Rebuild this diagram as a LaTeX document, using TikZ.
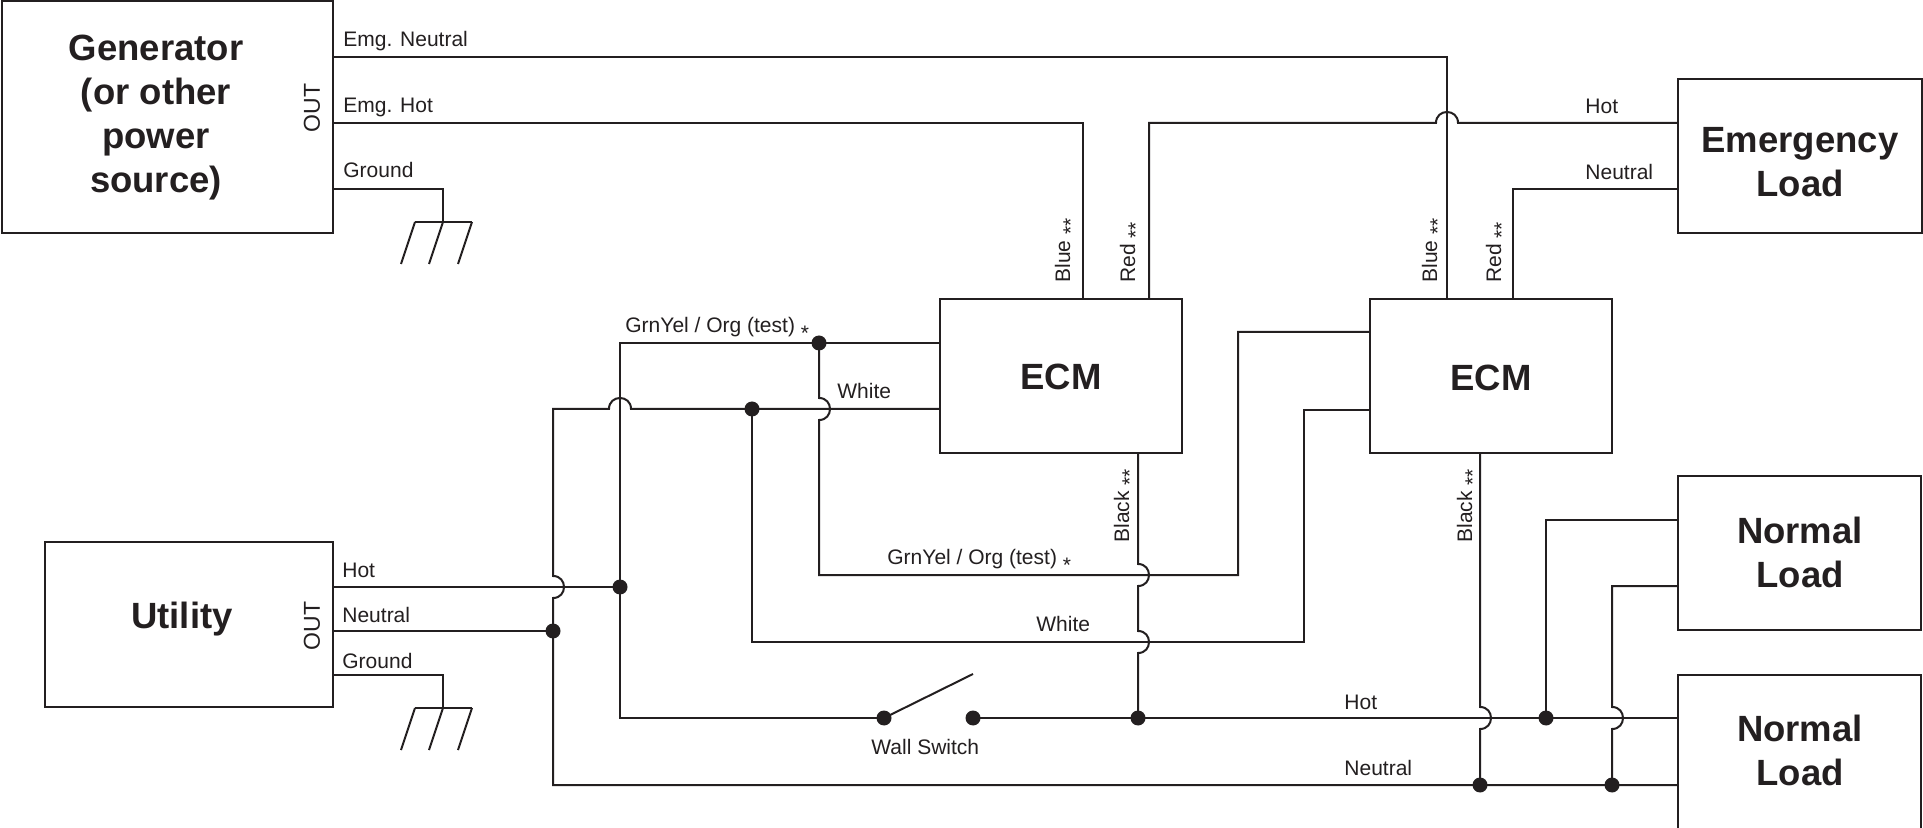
\documentclass[tikz,border=0pt]{standalone}
\usepackage{fontspec}
\setmainfont{Liberation Sans}
\usetikzlibrary{calc}
\definecolor{ink}{RGB}{35,31,32}
\newcommand\lowast{\raisebox{-0.38em}{*}}
\begin{document}
\begin{tikzpicture}[x=0.5pt,y=-0.5pt,
  box/.style={draw=ink,line width=1pt,inner sep=0pt,outer sep=0pt},
  wire/.style={draw=ink,line width=1pt},
  lbl/.style={inner sep=0pt,anchor=base west,text=ink,font=\fontsize{10.5}{12}\selectfont},
  vlbl/.style={lbl,rotate=90},
  title/.style={inner sep=0pt,align=center,text=ink,font=\fontsize{18.25}{22}\selectfont\bfseries},
  outlbl/.style={inner sep=0pt,rotate=90,text=ink,font=\fontsize{11.5}{13}\selectfont},
  jdot/.style={circle,fill=ink,inner sep=0pt,minimum size=7.5pt}]
\fill[white] (0,0) rectangle (1923,828);
\useasboundingbox (0,0) rectangle (1923,828);

% boxes
\node[box,minimum width=165.5pt,minimum height=116pt] (gen) at (167.5,117) {};
\node[box,minimum width=144pt,minimum height=82.5pt] (util) at (189,624.5) {};
\node[box,minimum width=121pt,minimum height=77pt] (ecmA) at (1061,376) {};
\node[box,minimum width=121pt,minimum height=77pt] (ecmB) at (1491,376) {};
\node[box,minimum width=122pt,minimum height=77pt] (emg) at (1800,156) {};
\node[box,minimum width=121.5pt,minimum height=77pt] (nlA) at (1799.5,553) {};
\node[box,minimum width=121.5pt,minimum height=78.5pt] (nlB) at (1799.5,753.5) {};

% titles
\node[title] (genT) at (156,118) {Generator\\(or other\\power\\source)};
\node[title,anchor=base] (utilT) at (182,628) {Utility};
\node[title,anchor=base] (ecmAT) at (1061,390) {ECM};
\node[title,anchor=base] (ecmBT) at (1491,391) {ECM};
\node[title] (emgT) at (1800,162) {Emergency\\Load};
\node[title] (nlAT) at (1800,552) {Normal\\Load};
\node[title] (nlBT) at (1800,750.5) {Normal\\Load};
\node[outlbl] (genO) at (312,108) {OUT};
\node[outlbl] (utilO) at (312,626) {OUT};

% coordinates
\coordinate (nA) at (1447,57);
\coordinate (hA) at (1083,123);
\coordinate (rA) at (1149,123);
\coordinate (rB) at (1513,189);
\coordinate (gG) at (443,189);
\coordinate (gE) at (443,222);
\coordinate (uG) at (443,675);
\coordinate (uE) at (443,708);
\coordinate (uH) at (620,587);
\coordinate (uN) at (553,631);
\coordinate (nTop) at (553,409);
\coordinate (nBot) at (553,785);
\coordinate (wJ) at (752,409);
\coordinate (gTop) at (620,343);
\coordinate (gJ) at (819,343);
\coordinate (hBot) at (620,718);
\coordinate (swA) at (884,718);
\coordinate (swB) at (973,718);
\coordinate (swT) at (973,674);
\coordinate (bAJ) at (1138,718);
\coordinate (bBJ) at (1480,785);
\coordinate (lHJ) at (1546,718);
\coordinate (lHT) at (1546,520);
\coordinate (lNJ) at (1612,785);
\coordinate (lNT) at (1612,586);
\coordinate (gL1) at (819,575);
\coordinate (gL2) at (1238,575);
\coordinate (gL3) at (1238,332);
\coordinate (wL1) at (752,642);
\coordinate (wL2) at (1304,642);
\coordinate (wL3) at (1304,410);

% generator wires
\draw[wire] (gen.east |- nA) -- (nA) -- (nA |- ecmB.north);
\draw[wire] (gen.east |- hA) -- (hA) -- (hA |- ecmA.north);
\draw[wire] (rA |- ecmA.north) -- (rA) -- ($(nA |- rA)+(-11,0)$) .. controls +(0,-14.67) and +(0,-14.67) .. ($(nA |- rA)+(11,0)$) -- (emg.west |- rA);
\draw[wire] (rB |- ecmB.north) -- (rB) -- (emg.west |- rB);
% grounds
\draw[wire] (gen.east |- gG) -- (gG) -- (gE);
\draw[wire] ($(gE)+(-28,0)$) -- ($(gE)+(29,0)$);
\foreach \dx in {-28,0,29} \draw[wire] ($(gE)+(\dx,0)$) -- ++(-14,42);
\draw[wire] (util.east |- uG) -- (uG) -- (uE);
\draw[wire] ($(uE)+(-28,0)$) -- ($(uE)+(29,0)$);
\foreach \dx in {-28,0,29} \draw[wire] ($(uE)+(\dx,0)$) -- ++(-14,42);

% utility wires
\draw[wire] (util.east |- uH) -- (uH);
\draw[wire] (util.east |- uN) -- (uN);
% white + neutral bus
\draw[wire] (ecmA.west |- wJ) -- (wJ) -- ($(gTop |- wJ)+(11,0)$) .. controls +(0,-14.67) and +(0,-14.67) .. ($(gTop |- wJ)+(-11,0)$) -- (nTop) -- ($(nTop |- uH)+(0,-11)$) .. controls +(14.67,0) and +(14.67,0) .. ($(nTop |- uH)+(0,11)$) -- (uN) -- (nBot) -- (nlB.west |- nBot);
% grnyel top + hot vertical
\draw[wire] (ecmA.west |- gJ) -- (gJ) -- (gTop) -- (uH) -- (hBot) -- (swA);
\draw[wire] (swA) -- (swT);
\draw[wire] (swB) -- (nlB.west |- swB);
% grnyel lower
\draw[wire] (gJ) -- ($(gJ |- wJ)+(0,-11)$) .. controls +(14.67,0) and +(14.67,0) .. ($(gJ |- wJ)+(0,11)$) -- (gL1) -- (gL2) -- (gL3) -- (ecmB.west |- gL3);
% white lower
\draw[wire] (wJ) -- (wL1) -- (wL2) -- (wL3) -- (ecmB.west |- wL3);
% black A
\draw[wire] (ecmA.south -| bAJ) -- ($(bAJ |- gL1)+(0,-11)$) .. controls +(14.67,0) and +(14.67,0) .. ($(bAJ |- gL1)+(0,11)$) -- ($(bAJ |- wL1)+(0,-11)$) .. controls +(14.67,0) and +(14.67,0) .. ($(bAJ |- wL1)+(0,11)$) -- (bAJ);
% black B
\draw[wire] (ecmB.south -| bBJ) -- ($(bBJ |- swB)+(0,-11)$) .. controls +(14.67,0) and +(14.67,0) .. ($(bBJ |- swB)+(0,11)$) -- (bBJ);
% normal load 1
\draw[wire] (nlA.west |- lHT) -- (lHT) -- (lHJ);
\draw[wire] (nlA.west |- lNT) -- (lNT) -- ($(lNJ |- swB)+(0,-11)$) .. controls +(14.67,0) and +(14.67,0) .. ($(lNJ |- swB)+(0,11)$) -- (lNJ);

% junction dots
\foreach \p in {gJ,wJ,uH,uN,swA,swB,bAJ,lHJ,bBJ,lNJ} \node[jdot] (d-\p) at (\p) {};

% labels
\node[lbl] (tEN) at (343,47) {Emg. Neutral};
\node[lbl] (tEH) at (343,113) {Emg. Hot};
\node[lbl] (tGG) at (343,178) {Ground};
\node[lbl] (tUH) at (342,577) {Hot};
\node[lbl] (tUN) at (342,622) {Neutral};
\node[lbl] (tUG) at (342,668) {Ground};
\node[lbl] (tMH) at (1585,114) {Hot};
\node[lbl] (tMN) at (1585,180) {Neutral};
\node[lbl] (tG1) at (625,333) {GrnYel / Org (test) \lowast};
\node[lbl] (tG2) at (887,565) {GrnYel / Org (test) \lowast};
\node[lbl] (tW1) at (837,399) {White};
\node[lbl] (tW2) at (1036,632) {White};
\node[lbl] (tBH) at (1344,709) {Hot};
\node[lbl] (tBN) at (1344,775) {Neutral};
\node[lbl] (tWS) at (871,754) {Wall Switch};
\node[vlbl] (tBA) at (1070,283) {Blue \lowast\lowast};
\node[vlbl] (tRA) at (1135,283) {Red \lowast\lowast};
\node[vlbl] (tBB) at (1437,283) {Blue \lowast\lowast};
\node[vlbl] (tRB) at (1501,283) {Red \lowast\lowast};
\node[vlbl] (tKA) at (1129,543) {Black \lowast\lowast};
\node[vlbl] (tKB) at (1472,543) {Black \lowast\lowast};
\end{tikzpicture}
\end{document}
